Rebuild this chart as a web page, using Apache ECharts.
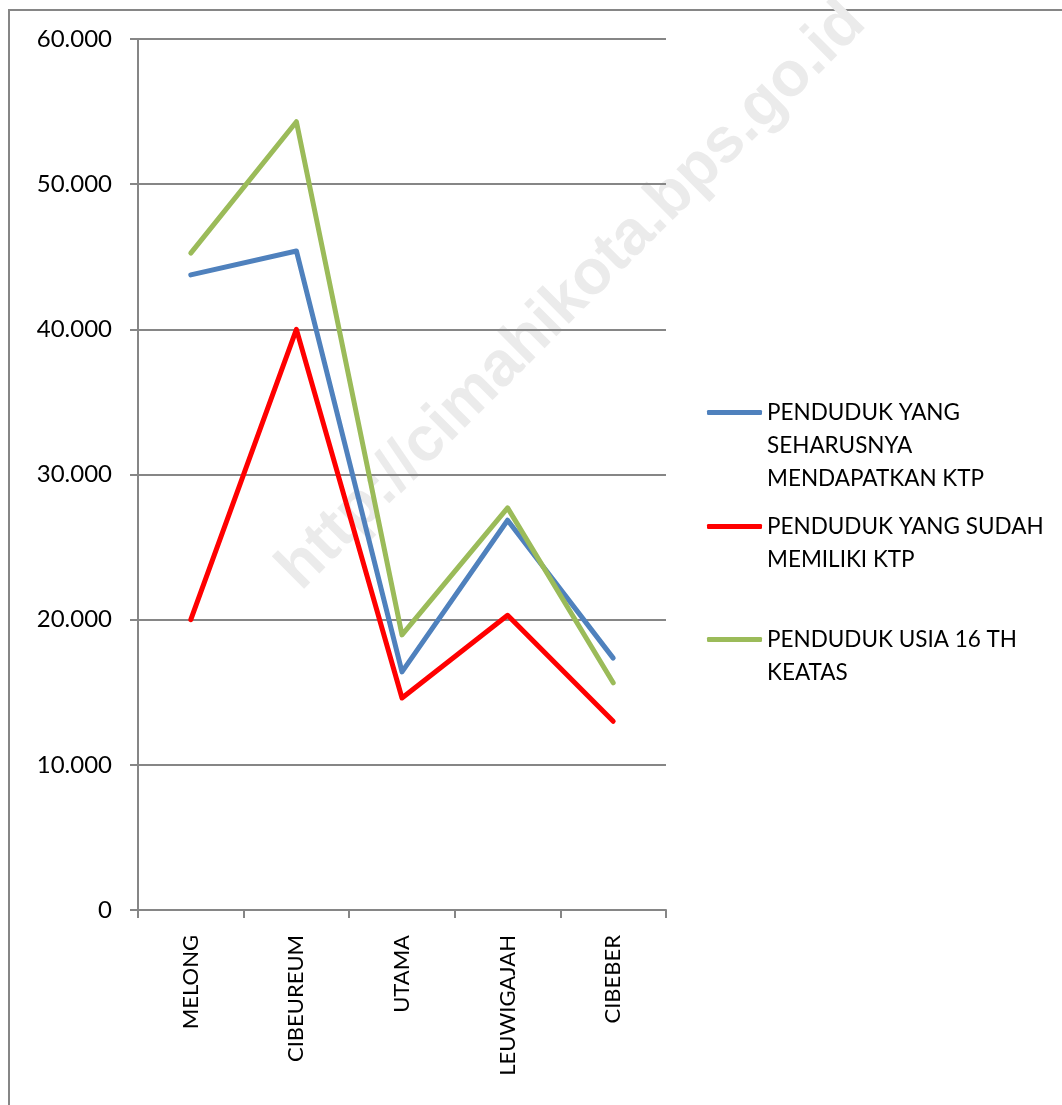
<!DOCTYPE html>
<html>
<head>
<meta charset="utf-8">
<script src="https://cdn.jsdelivr.net/npm/echarts@6/dist/echarts.min.js"></script>
<style>
  html, body { margin: 0; padding: 0; background: #fff; }
  #ktpChart { width: 1062px; height: 1105px; }
</style>
</head>
<body>
<div id="ktpChart"></div>
<script>
// data kelurahan
const kelurahan = ['MELONG', 'CIBEUREUM', 'UTAMA', 'LEUWIGAJAH', 'CIBEBER'];
const seharusnyaKtp = [43750, 45400, 16400, 26850, 17350];
const sudahKtp = [20000, 40000, 14600, 20300, 13000];
const usia16Keatas = [45250, 54300, 18950, 27700, 15650];
const yTicks = { min: 0, max: 60000, interval: 10000 };

const font = 'Lato';
let ktpChart = echarts.init(document.getElementById('ktpChart'));

function legendFor(name, text, top) {
    return {
        left: 702,
        top: top,
        orient: 'vertical',
        icon: 'roundRect',
        itemWidth: 55,
        itemHeight: 5,
        itemGap: 0,
        data: [name],
        formatter: function () { return text; },
        textStyle: { fontFamily: font, fontSize: 22.5, color: '#000', lineHeight: 33 }
    };
}

let options = {
    animation: false,
    backgroundColor: '#fff',
    grid: { left: 138, right: 396, top: 39, bottom: 195 },
    legend: [
        legendFor('PENDUDUK YANG SEHARUSNYA MENDAPATKAN KTP', '\n\nPENDUDUK YANG\nSEHARUSNYA\nMENDAPATKAN KTP', 325),
        legendFor('PENDUDUK YANG SUDAH MEMILIKI KTP', '\nPENDUDUK YANG SUDAH\nMEMILIKI KTP', 472),
        legendFor('PENDUDUK USIA 16 TH KEATAS', '\nPENDUDUK USIA 16 TH\nKEATAS', 585)
    ],
    graphic: [
        {
            type: 'rect', z: -10, silent: true,
            shape: { x: 9, y: 10, width: 1100, height: 1150 },
            style: { fill: 'none', stroke: '#868686', lineWidth: 2 }
        },
        {
            type: 'text', z: -5, silent: true,
            x: 572, y: 296, rotation: Math.PI / 4,
            style: {
                text: 'http://cimahikota.bps.go.id',
                font: 'bold 63px "Liberation Sans"',
                fill: '#ebebeb',
                align: 'center',
                verticalAlign: 'middle'
            }
        }
    ],
    xAxis: {
        type: 'category',
        data: kelurahan,
        boundaryGap: true,
        axisLine: { lineStyle: { color: '#868686', width: 2 } },
        axisTick: { show: true, length: 8, alignWithLabel: false, lineStyle: { color: '#868686', width: 2 } },
        axisLabel: { rotate: 90, margin: 25, color: '#000', fontFamily: font, fontSize: 22, interval: 0 },
        splitLine: { show: false }
    },
    yAxis: {
        type: 'value',
        min: yTicks.min,
        max: yTicks.max,
        interval: yTicks.interval,
        axisLine: { show: true, lineStyle: { color: '#868686', width: 2 } },
        axisTick: { show: true, length: 8, lineStyle: { color: '#868686', width: 2 } },
        axisLabel: {
            margin: 26, color: '#000', fontFamily: font, fontSize: 24,
            formatter: function (v) { return v === 0 ? '0' : (v / 1000) + '.000'; }
        },
        splitLine: { lineStyle: { color: '#868686', width: 2 } }
    },
    series: [
        {
            name: 'PENDUDUK YANG SEHARUSNYA MENDAPATKAN KTP',
            type: 'line', data: seharusnyaKtp, symbol: 'none', z: 3,
            itemStyle: { color: '#4F81BD' },
            lineStyle: { color: '#4F81BD', width: 5, cap: 'round', join: 'round' }
        },
        {
            name: 'PENDUDUK YANG SUDAH MEMILIKI KTP',
            type: 'line', data: sudahKtp, symbol: 'none', z: 3,
            itemStyle: { color: '#FF0000' },
            lineStyle: { color: '#FF0000', width: 5, cap: 'round', join: 'round' }
        },
        {
            name: 'PENDUDUK USIA 16 TH KEATAS',
            type: 'line', data: usia16Keatas, symbol: 'none', z: 3,
            itemStyle: { color: '#9BBB59' },
            lineStyle: { color: '#9BBB59', width: 5, cap: 'round', join: 'round' }
        }
    ]
};

ktpChart.setOption(options);
</script>
</body>
</html>
